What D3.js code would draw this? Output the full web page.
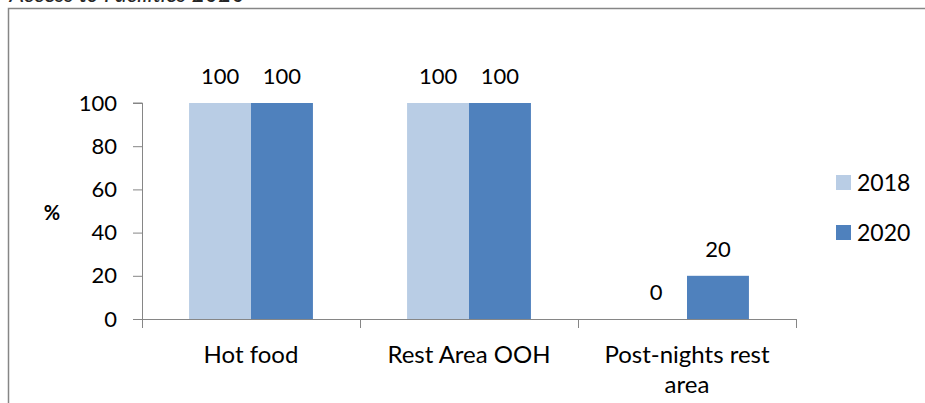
<!DOCTYPE html>
<html>
<head>
<meta charset="utf-8">
<script src="https://cdn.jsdelivr.net/npm/d3@7"></script>
<style>
  html, body { margin: 0; padding: 0; background: #fff; }
  svg { display: block; }
  text { font-family: Lato, "Open Sans", sans-serif; fill: #000; }
</style>
</head>
<body>
<svg id="chart" width="925" height="403"></svg>
<script>
const categories = ["Hot food", "Rest Area OOH", "Post-nights rest area"];
const categoryLines = [["Hot food"], ["Rest Area OOH"], ["Post-nights rest", "area"]];
const seriesNames = ["2018", "2020"];
const values2018 = [100, 100, 0];
const values2020 = [100, 100, 20];
const yTicks = [0, 20, 40, 60, 80, 100];
const colors = ["#B9CDE5", "#4F81BD"];
const titleText = "Access to Facilities 2020";
const axisTitle = "%";

(function () {
const svg = d3.select("#chart");
const axisColor = "#868686";

// frame
svg.append("path").attr("d", "M8.5,403 V8.5 H925")
  .attr("fill", "none").attr("stroke", axisColor).attr("stroke-width", 1.5);

// clipped title at top
svg.append("text").attr("x", 245).attr("y", 2).attr("text-anchor", "end")
  .attr("font-style", "italic").attr("font-size", 23).style("fill", "#262626")
  .text(titleText);

const pLeft = 142, pRight = 796, pTop = 103, pBottom = 319;
const x = d3.scaleBand().domain(categories).range([pLeft, pRight]).paddingInner(0).paddingOuter(0);
const inner = d3.scaleBand().domain(seriesNames).range([0, x.bandwidth()]).paddingInner(0).paddingOuter(0.76);
const y = d3.scaleLinear().domain([0, 100]).range([pBottom, pTop]);

const series = [values2018, values2020];
const data = [];
categories.forEach((c, i) => seriesNames.forEach((s, j) => data.push({c, s, v: series[j][i], j})));

svg.append("g").selectAll("rect").data(data).join("rect")
  .attr("x", d => x(d.c) + inner(d.s))
  .attr("width", inner.bandwidth())
  .attr("y", d => y(d.v))
  .attr("height", d => pBottom - y(d.v))
  .attr("fill", d => colors[d.j]);

// data labels
svg.append("g").selectAll("text").data(data).join("text")
  .attr("x", d => x(d.c) + inner(d.s) + inner.bandwidth() / 2)
  .attr("y", d => y(d.v) - 27)
  .attr("dy", "0.35em")
  .attr("text-anchor", "middle").attr("font-size", 22)
  .text(d => d.v);

// y axis
const yAxis = svg.append("g").attr("transform", `translate(${pLeft},0)`)
  .call(d3.axisLeft(y).tickValues(yTicks).tickSize(9).tickPadding(16));
yAxis.select(".domain").attr("stroke", axisColor).attr("d", `M-9,${pTop}H0.5V${pBottom}`);
yAxis.selectAll(".tick line").attr("stroke", axisColor);
yAxis.selectAll(".tick text").attr("font-size", 22).attr("font-family", "Lato, sans-serif").style("fill", "#000");

// x axis
const boundaries = categories.map(c => x(c)).concat([pRight]);
svg.append("line").attr("x1", pLeft).attr("x2", pRight).attr("y1", pBottom + 0.5).attr("y2", pBottom + 0.5)
  .attr("stroke", axisColor);
svg.append("g").selectAll("line").data(boundaries).join("line")
  .attr("x1", d => d + 0.5).attr("x2", d => d + 0.5)
  .attr("y1", pBottom).attr("y2", pBottom + 9).attr("stroke", axisColor);

svg.append("g").selectAll("text").data(categories).join("text")
  .attr("x", d => x(d) + x.bandwidth() / 2)
  .attr("y", 355)
  .attr("text-anchor", "middle").attr("font-size", 24)
  .each(function(d, i) {
    const t = d3.select(this);
    categoryLines[i].forEach((line, k) => {
      t.append("tspan").attr("x", x(d) + x.bandwidth() / 2).attr("dy", k === 0 ? "0.35em" : 30).text(line);
    });
  });

// axis title
svg.append("text").attr("x", 52).attr("y", 213).attr("dy", "0.35em")
  .attr("text-anchor", "middle").attr("font-weight", "bold").attr("font-size", 20).text(axisTitle);

// legend
const legend = svg.append("g").selectAll("g").data(seriesNames).join("g")
  .attr("transform", (d, i) => `translate(836,${175 + i * 50})`);
legend.append("rect").attr("width", 15).attr("height", 15).attr("fill", (d, i) => colors[i]);
legend.append("text").attr("x", 21).attr("y", 7.5).attr("dy", "0.35em").attr("font-size", 23).text(d => d);
})();
</script>
</body>
</html>
